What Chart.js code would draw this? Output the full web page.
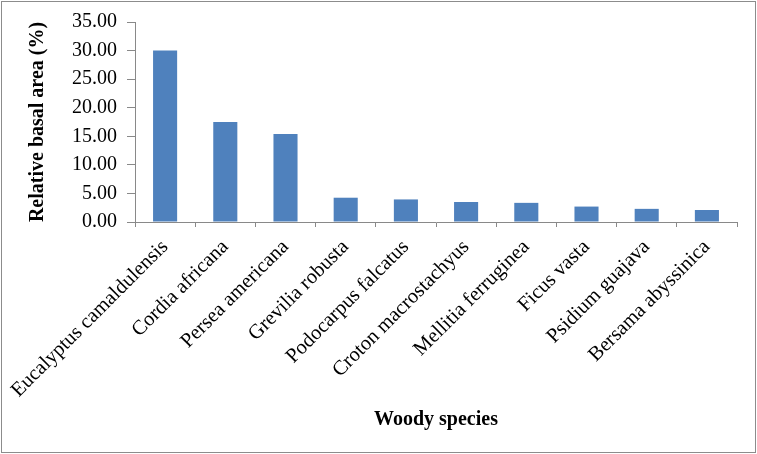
<!DOCTYPE html>
<html>
<head>
<meta charset="utf-8">
<script src="https://cdn.jsdelivr.net/npm/chart.js@4"></script>
<style>
  html, body { margin: 0; padding: 0; background: #fff; }
  #wrap { position: absolute; left: 0; top: 0; width: 757px; height: 454px; }
  #frame { position: absolute; left: 1px; top: 1px; width: 753px; height: 450px;
           border: 1px solid #8c8c8c; pointer-events: none; }
</style>
</head>
<body>
<div id="wrap">
  <canvas id="chart" width="757" height="454"></canvas>
  <div id="frame"></div>
</div>
<script>
const species = ['Eucalyptus camaldulensis', 'Cordia africana', 'Persea americana', 'Grevilia robusta',
    'Podocarpus falcatus', 'Croton macrostachyus', 'Mellitia ferruginea', 'Ficus vasta',
    'Psidium guajava', 'Bersama abyssinica'];
const basalArea = [30.0, 17.5, 15.4, 4.25, 3.95, 3.5, 3.35, 2.7, 2.3, 2.1];
const yTicks = [0, 5, 10, 15, 20, 25, 30, 35];

const axisGrey = '#898989';
const serif = "'Liberation Serif', 'Times New Roman', serif";

const ctx = document.getElementById('chart');
const chart = new Chart(ctx, {
    type: 'bar',
    data: {
        labels: species,
        datasets: [{
            label: 'Relative basal area',
            data: basalArea,
            backgroundColor: '#4f81bd',
            borderWidth: 0,
            barPercentage: 0.8,
            categoryPercentage: 0.5
        }]
    },
    options: {
        responsive: false,
        animation: false,
        devicePixelRatio: 1,
        layout: { padding: { left: 26, right: 20, top: 21, bottom: 22 } },
        plugins: { legend: { display: false }, tooltip: { enabled: false } },
        scales: {
            x: {
                grid: { display: true, drawOnChartArea: false, tickLength: 5, color: axisGrey },
                border: { display: true, color: axisGrey },
                ticks: {
                    color: '#000',
                    font: { family: serif, size: 20.5 },
                    maxRotation: 45,
                    minRotation: 45,
                    padding: 8,
                    autoSkip: false
                },
                title: {
                    display: true,
                    text: 'Woody species',
                    color: '#000',
                    font: { family: serif, size: 20, weight: 'bold' },
                    padding: 0
                },
                afterFit: function (scale) { scale.height = 210; }
            },
            y: {
                min: 0,
                max: 35,
                afterBuildTicks: function (scale) {
                    scale.ticks = yTicks.map(v => ({ value: v }));
                },
                grid: { display: true, drawOnChartArea: false, tickLength: 8, color: axisGrey },
                border: { display: true, color: axisGrey },
                ticks: {
                    color: '#000',
                    font: { family: serif, size: 20 },
                    padding: 10,
                    callback: v => Number(v).toFixed(2)
                },
                title: {
                    display: true,
                    text: 'Relative basal area (%)',
                    color: '#000',
                    font: { family: serif, size: 20, weight: 'bold' },
                    padding: 0
                },
                afterFit: function (scale) { scale.width = 109; }
            }
        }
    }
});
</script>
</body>
</html>
